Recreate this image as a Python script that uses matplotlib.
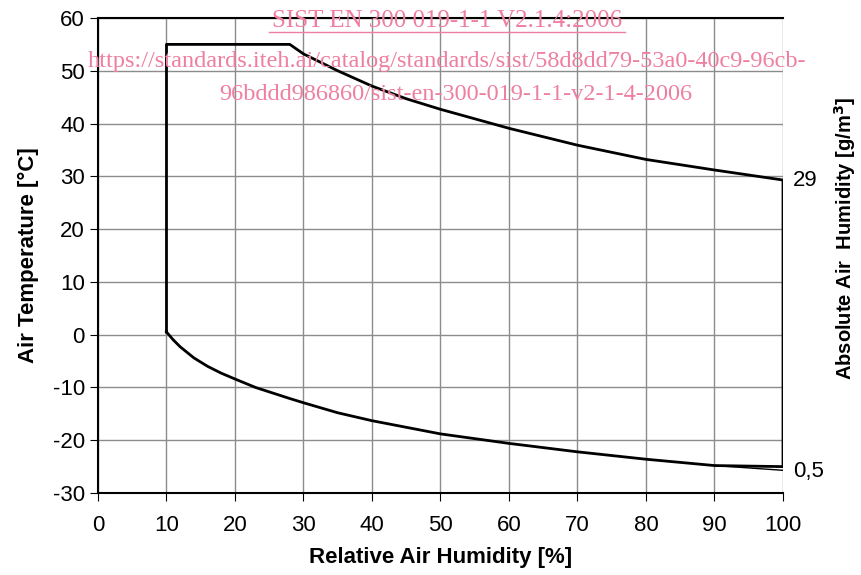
import matplotlib
matplotlib.use("Agg")
import matplotlib.pyplot as plt

plt.rcParams['font.family'] = ['Liberation Sans', 'DejaVu Sans']
plt.rcParams['axes.unicode_minus'] = False

# envelope: left edge, top plateau, upper curve, right edge, lower curve
upper_rh = [10, 10, 28, 30, 35, 40, 45, 50, 60, 70, 80, 90, 100]
upper_t = [0.5, 55, 55, 53.2, 50.0, 47.1, 44.7, 42.7, 39.1, 35.9, 33.2, 31.2, 29.3]
right_rh = [100, 100]
right_t = [29.3, -25]
lower_rh = [100, 90, 80, 70, 60, 50, 40, 35, 30, 28, 23, 20, 18, 16, 14, 12, 11, 10]
lower_t = [-25, -24.8, -23.6, -22.2, -20.6, -18.8, -16.3, -14.8, -12.9, -12.1, -10.0,
           -8.4, -7.3, -6.0, -4.4, -2.3, -1.0, 0.5]
tail_rh = [90, 100]
tail_t = [-24.8, -25.7]

fig = plt.figure(figsize=(8.61, 5.75), dpi=100)
ax = fig.add_axes([0.1138, 0.1426, 0.7956, 0.8261])

ax.plot(upper_rh + right_rh[1:] + lower_rh[1:], upper_t + right_t[1:] + lower_t[1:],
        color='black', lw=2, zorder=3)
ax.plot(tail_rh, tail_t, color='black', lw=1, zorder=3)

ax.set_xlim(0, 100)
ax.set_ylim(-30, 60)
ax.set_xticks(range(0, 101, 10))
ax.set_yticks(range(-30, 61, 10))
ax.grid(True, color='#8c8c8c', lw=1)
ax.tick_params(labelsize=16, length=6, color='black')
ax.tick_params(axis='x', pad=10)
for s in ['top', 'left', 'bottom']:
    ax.spines[s].set_linewidth(1.5)
ax.spines['right'].set_visible(False)

ax.set_xlabel('Relative Air Humidity [%]', fontsize=16, fontweight='bold', labelpad=8)
ax.set_ylabel('Air Temperature [°C]', fontsize=16, fontweight='bold', labelpad=10)

ax.text(101.5, 29.3, '29', fontsize=16, va='center', ha='left')
ax.text(101.5, -25.9, '0,5', fontsize=16, va='center', ha='left')
fig.text(0.982, 0.585, 'Absolute Air  Humidity [g/m$^\\mathbf{3}$]', rotation=90,
         fontsize=14.5, fontweight='bold', va='center', ha='center')

wm = '#ee7fa0'
fig.text(0.519, 0.964, 'SIST EN 300 019-1-1 V2.1.4:2006', color=wm, fontsize=18,
         family='Liberation Serif', ha='center', va='center')
fig.add_artist(plt.Line2D([0.313, 0.726], [0.944, 0.944], color=wm, lw=1))
fig.text(0.519, 0.893, 'https://standards.iteh.ai/catalog/standards/sist/58d8dd79-53a0-40c9-96cb-',
         color=wm, fontsize=17.5, family='Liberation Serif', ha='center', va='center')
fig.text(0.529, 0.836, '96bddd986860/sist-en-300-019-1-1-v2-1-4-2006', color=wm, fontsize=17.5,
         family='Liberation Serif', ha='center', va='center')

fig.savefig('out.png', dpi=100)
